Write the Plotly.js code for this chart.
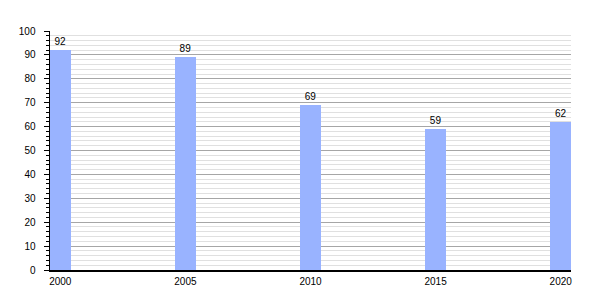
<!DOCTYPE html>
<html><head><meta charset="utf-8">
<script src="https://cdn.plot.ly/plotly-3.0.1.min.js"></script>
<style>html,body{margin:0;padding:0;background:#fff;}#chart{width:600px;height:300px;}</style>
</head><body><div id="chart"></div>
<script>
const years = [2000, 2005, 2010, 2015, 2020];
const values = [92, 89, 69, 59, 62];
const yTicks = [0, 10, 20, 30, 40, 50, 60, 70, 80, 90, 100];

Plotly.newPlot('chart', [{
  type: 'bar',
  x: years,
  y: values,
  width: 0.82,
  marker: {color: '#99b3ff', line: {width: 0}},
  text: values.map(String),
  textposition: 'outside',
  textfont: {family: 'Liberation Sans, Arial, sans-serif', size: 10, color: '#000'},
  cliponaxis: false,
  hoverinfo: 'skip'
}], {
  width: 600, height: 300,
  margin: {l: 50, r: 29, t: 31, b: 30},
  paper_bgcolor: '#fff', plot_bgcolor: '#fff',
  font: {family: 'Liberation Sans, Arial, sans-serif', size: 10, color: '#000'},
  showlegend: false,
  bargap: 0,
  xaxis: {
    range: [2000 - 0.41, 2020 + 0.41],
    tickvals: years,
    ticktext: years.map(String),
    ticks: '',
    ticklabelstandoff: 1,
    showgrid: false,
    zeroline: false,
    showline: true, linecolor: '#000', linewidth: 1.5,
    fixedrange: true
  },
  yaxis: {
    range: [0, 100],
    tickvals: yTicks,
    ticks: 'outside', ticklen: 5, tickcolor: '#000', tickwidth: 1,
    ticklabelstandoff: 6,
    showgrid: true, gridcolor: '#a6a6a6', gridwidth: 1,
    zeroline: false,
    showline: true, linecolor: '#000', linewidth: 1.5,
    minor: {dtick: 2, ticks: 'outside', ticklen: 3, tickcolor: '#000', showgrid: true, gridcolor: '#e0e0e0', gridwidth: 1},
    fixedrange: true
  }
}, {staticPlot: true});
</script></body></html>
